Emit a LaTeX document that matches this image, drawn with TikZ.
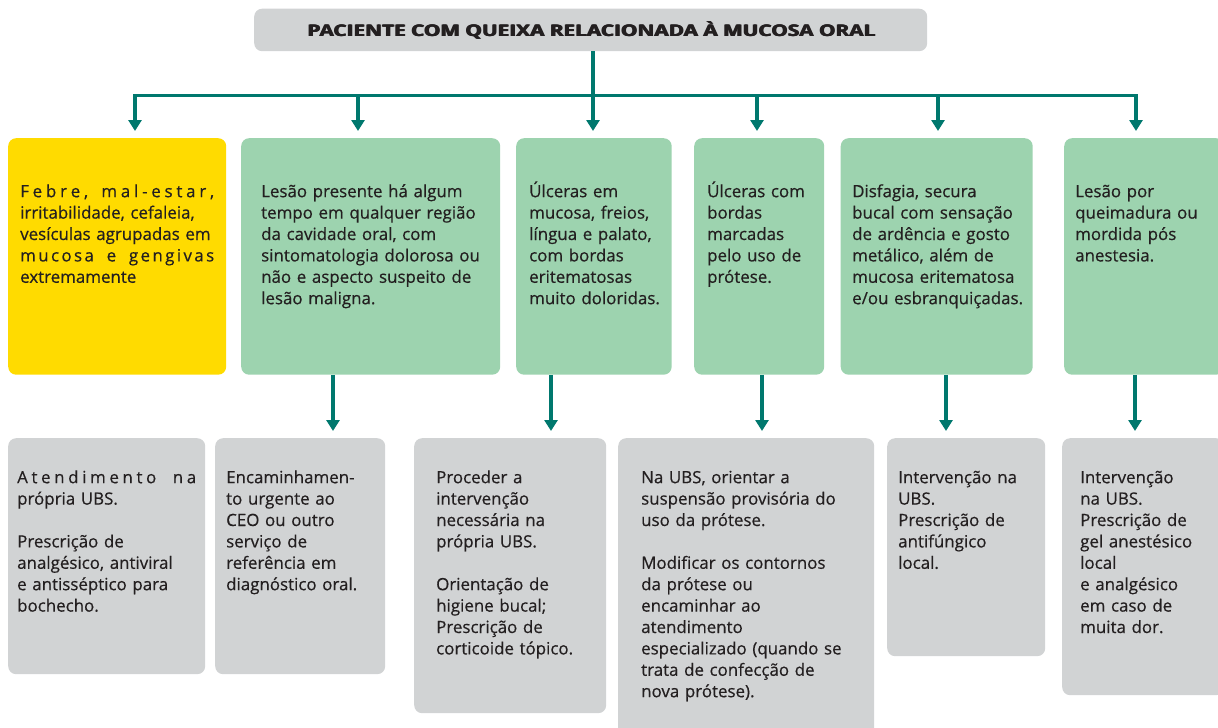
\documentclass[tikz,border=0pt]{standalone}
\usepackage{fontspec}
\setmainfont{Open Sans}[UprightFeatures={FakeBold=0.5}]
\usetikzlibrary{arrows.meta,calc}
\definecolor{tealc}{RGB}{0,120,110}
\definecolor{yel}{RGB}{255,219,0}
\definecolor{grn}{RGB}{157,211,175}
\definecolor{gry}{RGB}{209,211,212}
\definecolor{ink}{RGB}{35,31,32}
\newcommand\jl[2]{\makebox[#1][s]{#2}}
\newcommand\fs{\rule{0pt}{18pt}}
\newcommand\heavytext[1]{\rlap{#1}\kern0.45pt\rlap{#1}\kern0.45pt#1}
\tikzset{
  box/.style={rounded corners=8pt, inner sep=0pt, anchor=north west},
  txt/.style={anchor=north west, inner sep=0pt, align=left, text=ink,
    font=\fontsize{16.9}{21.4}\selectfont},
  conn/.style={draw=tealc, line width=3.6pt},
  arr/.style={conn, -{Triangle[width=13pt,length=11pt]}, shorten >=7pt},
}
\begin{document}
\begin{tikzpicture}[x=1pt,y=-1pt]
\useasboundingbox (0,0) rectangle (1218,728);
% title
\node[box, fill=gry, minimum width=673pt, minimum height=42.5pt] (top) at (254,8.5) {};
\node[anchor=base, inner sep=0pt, text=ink] (title) at (591.5,36.7)
  {\resizebox{569pt}{\height}{\fontsize{16}{20}\selectfont\bfseries\heavytext{PACIENTE COM QUEIXA RELACIONADA À MUCOSA ORAL}}};
% row 1 boxes
\node[box, fill=yel, minimum width=218pt, minimum height=236.5pt] (y1) at (8,138) {};
\node[box, fill=grn, minimum width=259pt, minimum height=236.5pt] (g2) at (241,138) {};
\node[box, fill=grn, minimum width=155.5pt, minimum height=236.5pt] (g3) at (516,138) {};
\node[box, fill=grn, minimum width=130pt, minimum height=236.5pt] (g4) at (694,138) {};
\node[box, fill=grn, minimum width=192pt, minimum height=236.5pt] (g5) at (840.5,138) {};
\node[box, fill=grn, minimum width=160pt, minimum height=236.5pt] (g6) at (1064,138) {};
% row 2 boxes
\node[box, fill=gry, minimum width=197pt, minimum height=236pt] (x1) at (8,438) {};
\node[box, fill=gry, minimum width=170pt, minimum height=236pt] (x2) at (215,438) {};
\node[box, fill=gry, minimum width=192pt, minimum height=275pt] (x3) at (414,438) {};
\node[box, fill=gry, minimum width=256pt, minimum height=300pt] (x4) at (618,438) {};
\node[box, fill=gry, minimum width=158pt, minimum height=218pt] (x5) at (887,438) {};
\node[box, fill=gry, minimum width=162pt, minimum height=257pt] (x6) at (1062,438) {};
% row 1 texts
\node[txt, text width=194pt] (ty1) at (20,179) {\fs\jl{194pt}{F\hfil e\hfil b\hfil r\hfil e\hfil , \hfil\hfil m\hfil a\hfil l\hfil -\hfil e\hfil s\hfil t\hfil a\hfil r\hfil ,}\\
  \jl{194pt}{irritabilidade, cefaleia,}\\
  \jl{194pt}{vesículas agrupadas em}\\
  \jl{194pt}{m\hfil u\hfil c\hfil o\hfil s\hfil a \hfil\hfil\hfil e \hfil\hfil\hfil g\hfil e\hfil n\hfil g\hfil i\hfil v\hfil a\hfil s}\\
  extremamente};
\node[txt, text width=229pt] (tg2) at (261,179) {\fs\jl{229pt}{Lesão presente há algum}\\
  \jl{229pt}{tempo em qualquer região}\\
  \jl{229pt}{da cavidade oral, com}\\
  \jl{229pt}{sintomatologia dolorosa ou}\\
  \jl{229pt}{não e aspecto suspeito de}\\
  lesão maligna.};
\node[txt, text width=150pt] (tg3) at (529,179) {\fs Úlceras em\\ mucosa, freios,\\ língua e palato,\\ com bordas\\ eritematosas\\ muito doloridas.};
\node[txt, text width=115pt] (tg4) at (707,179) {\fs Úlceras com\\ bordas\\ marcadas\\ pelo uso de\\ prótese.};
\node[txt, text width=185pt] (tg5) at (852,179) {\fs Disfagia, secura\\ bucal com sensação\\ de ardência e gosto\\ metálico, além de\\ mucosa eritematosa\\ e/ou esbranquiçadas.};
\node[txt, text width=140pt] (tg6) at (1075,179) {\fs Lesão por\\ queimadura ou\\ mordida pós\\ anestesia.};
% row 2 texts
\node[txt, text width=179pt] (tx1) at (17,465) {\fs\jl{179pt}{A\hfil t\hfil e\hfil n\hfil d\hfil i\hfil m\hfil e\hfil n\hfil t\hfil o \hfil\hfil\hfil n\hfil a}\\
  própria UBS.\\[21.4pt]
  Prescrição de\\ analgésico, antiviral\\ e antisséptico para\\ bochecho.};
\node[txt, text width=155pt] (tx2) at (226,465) {\fs Encaminhamen-\\ to urgente ao\\ CEO ou outro\\ serviço de\\ referência em\\ diagnóstico oral.};
\node[txt, text width=165pt] (tx3) at (436,465) {\fs Proceder a\\ intervenção\\ necessária na\\ própria UBS.\\[21.4pt]
  Orientação de\\ higiene bucal;\\ Prescrição de\\ corticoide tópico.};
\node[txt, text width=230pt] (tx4) at (641,465) {\fs Na UBS, orientar a\\ suspensão provisória do\\ uso da prótese.\\[21.4pt]
  Modificar os contornos\\ da prótese ou\\ encaminhar ao\\ atendimento\\ especializado (quando se\\ trata de confecção de\\ nova prótese).};
\node[txt, text width=145pt] (tx5) at (898,465) {\fs Intervenção na\\ UBS.\\ Prescrição de\\ antifúngico\\ local.};
\node[txt, text width=138pt] (tx6) at (1080,465) {\fs Intervenção\\ na UBS.\\ Prescrição de\\ gel anestésico\\ local\\ e analgésico\\ em caso de\\ muita dor.};
% connectors
\coordinate (s1) at (135,95.5);
\coordinate (s2) at (358,95.5);
\coordinate (s3) at (593,95.5);
\coordinate (s4) at (757,95.5);
\coordinate (s5) at (938,95.5);
\coordinate (s6) at (1136,95.5);
\draw[conn, line cap=rect] (s1) -- (s6);
\draw[conn] (top.south -| s3) -- (s3);
\draw[arr] (s1) -- (y1.north -| s1);
\draw[arr] (s2) -- (g2.north -| s2);
\draw[arr] (s3) -- (g3.north -| s3);
\draw[arr] (s4) -- (g4.north -| s4);
\draw[arr] (s5) -- (g5.north -| s5);
\draw[arr] (s6) -- (g6.north -| s6);
\coordinate (r2) at (333,0);
\coordinate (r3) at (551,0);
\coordinate (r4) at (762,0);
\coordinate (r5) at (946,0);
\coordinate (r6) at (1135,0);
\draw[arr] (g2.south -| r2) -- (x2.north -| r2);
\draw[arr] (g3.south -| r3) -- (x3.north -| r3);
\draw[arr] (g4.south -| r4) -- (x4.north -| r4);
\draw[arr] (g5.south -| r5) -- (x5.north -| r5);
\draw[arr] (g6.south -| r6) -- (x6.north -| r6);
\end{tikzpicture}
\end{document}
